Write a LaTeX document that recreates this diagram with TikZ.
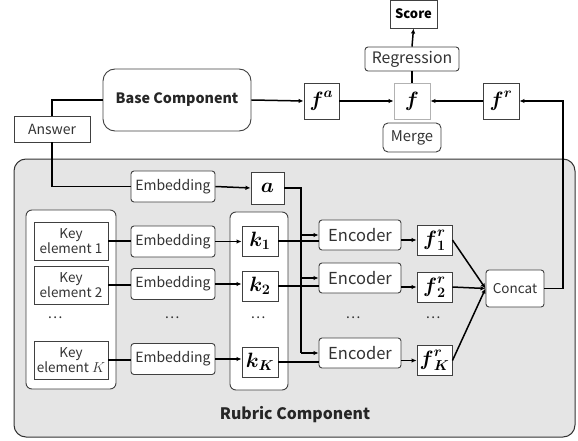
\documentclass[tikz,border=0pt]{standalone}
\usepackage{amsmath, amssymb}
\usepackage{fontspec}
\setsansfont{Noto Sans CJK JP}
\usepackage{tikz}
\usetikzlibrary{positioning,arrows.meta}

\begin{document}
\begin{tikzpicture}[x=1pt,y=-1pt,
          every node/.style={font=\sffamily\fontsize{14}{16}\selectfont,text=black!80,inner sep=1pt},
          blk/.style={draw=black!75,line width=0.9pt},
          rblk/.style={blk,rounded corners=3pt,fill=white},
          sblk/.style={blk,fill=white},
          vec/.style={blk,fill=white,minimum width=35pt,minimum height=32pt,text=black,
                      font=\fontsize{20}{22}\selectfont},
          emb/.style={rblk,minimum width=84pt,minimum height=31pt},
          enc/.style={rblk,minimum width=82pt,minimum height=30pt,font=\sffamily\fontsize{16.5}{18}\selectfont},
          keyel/.style={sblk,minimum width=74pt,minimum height=38pt,align=center,
                        font=\sffamily\fontsize{13.5}{14.5}\selectfont},
          group/.style={draw=black!75,line width=0.9pt,rounded corners=6pt,fill=white},
          link/.style={line width=1.5pt},
          arr/.style={link,-{Latex[length=5pt,width=4.5pt]}},
        ]
        \useasboundingbox (0,0) rectangle (578,441);
        % rubric area
        \draw[draw=black!80,line width=1pt,fill=black!10,rounded corners=12pt] (14,159) rectangle (575,437);
        \draw[group] (26,210) rectangle (116,389);
        \draw[group] (230,212) rectangle (288,390);
        \node[font=\sffamily\bfseries\fontsize{15.8}{17}\selectfont,text=black!85] (rubric) at (295,415) {Rubric Component};

        % top row
        \node[blk,minimum width=47pt,minimum height=28pt,text=black,font=\sffamily\bfseries\fontsize{13}{14}\selectfont] (score) at (413.5,14) {Score};
        \node[rblk,minimum width=94pt,minimum height=24pt,font=\sffamily\fontsize{15.8}{17}\selectfont] (regr) at (412,59) {Regression};
        \node[vec,draw=black!30,minimum width=36pt,minimum height=36pt] (f) at (412,101) {$\boldsymbol{f}$};
        \node[rblk,rounded corners=5pt,minimum width=58pt,minimum height=29pt,font=\sffamily\fontsize{14.8}{16}\selectfont] (merge) at (412,137.5) {Merge};
        \node[vec,minimum height=36pt] (fa) at (321.5,101) {$\boldsymbol{f}^{\boldsymbol{a}}$};
        \node[vec,minimum width=36pt,minimum height=36pt] (fr) at (501,101) {$\boldsymbol{f}^{\boldsymbol{r}}$};
        \node[blk,rounded corners=12pt,minimum width=148pt,minimum height=62pt,text=black!85,
              font=\sffamily\bfseries\fontsize{14.3}{16}\selectfont] (base) at (177,100) {Base Component};
        \node[sblk,minimum width=76pt,minimum height=26pt] (answer) at (52,129) {Answer};

        % answer embedding
        \node[emb] (emba) at (173,186.5) {Embedding};
        \node[vec,minimum width=33pt] (a) at (267.5,188) {$\boldsymbol{a}$};

        % key elements
        \node[keyel] (key1) at (71,241) {Key\\element 1};
        \node[keyel] (key2) at (71,285) {Key\\element 2};
        \node[keyel] (keyK) at (71,360) {Key\\element $K$};
        \node[emb] (emb1) at (173,241.5) {Embedding};
        \node[emb] (emb2) at (173,284) {Embedding};
        \node[emb] (embK) at (173,359) {Embedding};
        \node[vec,minimum width=36pt,minimum height=30pt] (k1) at (260,241) {$\boldsymbol{k_1}$};
        \node[vec,minimum width=36pt,minimum height=30pt] (k2) at (260,286) {$\boldsymbol{k_2}$};
        \node[vec,minimum width=36pt,minimum height=30pt] (kK) at (260,362) {$\boldsymbol{k_K}$};

        % encoders
        \node[enc] (enc1) at (360,235) {Encoder};
        \node[enc] (enc2) at (360,278) {Encoder};
        \node[enc] (encK) at (360,353) {Encoder};
        \node[vec,minimum height=30pt] (fr1) at (434.5,240) {$\boldsymbol{f}^{\boldsymbol{r}}_{\boldsymbol{1}}$};
        \node[vec,minimum height=30pt] (fr2) at (434.5,287) {$\boldsymbol{f}^{\boldsymbol{r}}_{\boldsymbol{2}}$};
        \node[vec,minimum height=30pt] (frK) at (434.5,360.5) {$\boldsymbol{f}^{\boldsymbol{r}}_{\boldsymbol{K}}$};
        \node[rblk,minimum width=58pt,minimum height=37pt,font=\sffamily\fontsize{13.5}{15}\selectfont] (concat) at (515,288.5) {Concat};

        % dots
        \foreach \x/\n in {55/d1,172/d2,258/d3,353/d4,433/d5}
          \node (\n) at (\x,318) {\dots};

        \coordinate (bus) at (301,188);
        \coordinate (ret) at (563,101);

        % connectors
        \draw[link] (base.west) -| (answer.north);
        \draw[link] (answer.south) |- (emba.west);
        \draw[arr] (emba.east) -- (a.west);
        \draw[link] (a.east) -- (bus) -- (bus |- encK.west);
        \foreach \e in {enc1,enc2,encK}
          \draw[arr] (bus |- \e.west) -- (\e.west);
        \foreach \i in {1,2,K} {
          \draw[link] (key\i.east) -- (key\i.east -| emb\i.west);
          \draw[arr] (emb\i.east) -- (emb\i.east -| k\i.west);
          \draw[link] (k\i.east) -- (k\i.east -| enc\i.west);
          \draw[arr] (fr\i.west -| enc\i.east) -- (fr\i.west);
          \draw[arr] (fr\i.east) -- (concat.west);
        }
        \draw[arr] (concat.east) -| (ret) -- (fr.east);
        \draw[arr] (base.east) -- (fa.west);
        \draw[arr] (fa.east) -- (f.west);
        \draw[arr] (fr.west) -- (f.east);
        \draw[link] (f.north) -- (regr.south);
        \draw[arr] (regr.north) -- (score.south);
\end{tikzpicture}
\end{document}
